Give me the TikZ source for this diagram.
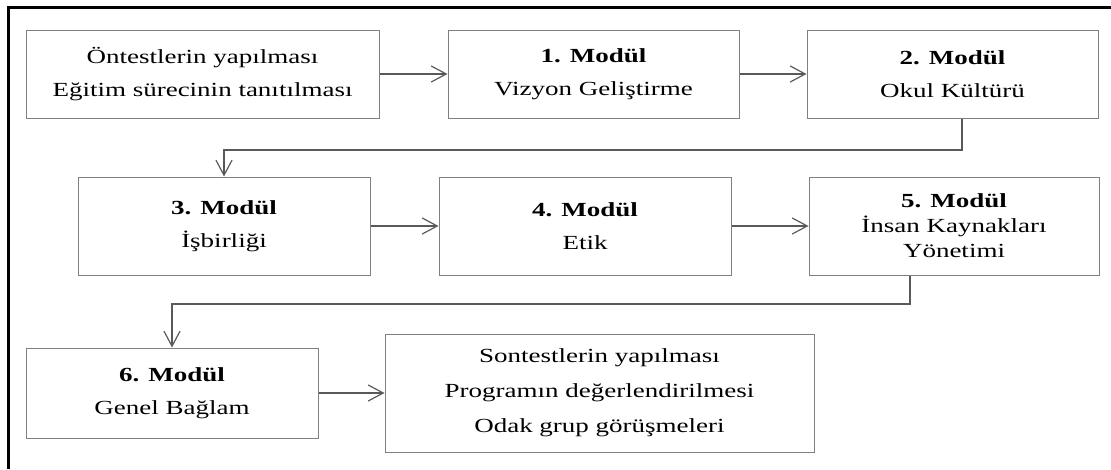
\documentclass[tikz,border=0pt]{standalone}
\usepackage{fontspec}
\setmainfont{Liberation Serif}[FakeStretch=1.35]
\usetikzlibrary{arrows.meta,positioning}

\begin{document}
\begin{tikzpicture}[x=1pt,y=-1pt,->,>={Straight Barb[length=15pt,width=16pt]},
        modul/.style={draw=black!50,line width=1pt,inner sep=0pt,align=center,
          minimum width=292pt,minimum height=98pt,font=\fontsize{20}{33}\selectfont},
        akis/.style={draw=black!65,line width=1.2pt}]

  \useasboundingbox (0,0) rectangle (1111,469);
  \draw[-,line width=3pt] (8,469) |- (1111,7);

  % first row
  \node[modul,minimum width=353pt,minimum height=88pt] (on) at (202.5,74)
    {Öntestlerin yapılması\\Eğitim sürecinin tanıtılması};
  \node[modul,minimum width=291pt,minimum height=88pt] (m1) [right=68pt of on]
    {\textbf{1. Modül}\\Vizyon Geliştirme};
  \node[modul,minimum width=291pt,minimum height=88pt] (m2) [right=67pt of m1]
    {\textbf{2. Modül}\\Okul Kültürü};

  % second row
  \node[modul] (m3) at (224,226) {\textbf{3. Modül}\\İşbirliği};
  \node[modul] (m4) [right=68pt of m3] {\textbf{4. Modül}\\Etik};
  \node[modul,minimum width=290pt,font=\fontsize{20}{25}\selectfont] (m5) [right=77pt of m4]
    {\textbf{5. Modül}\\İnsan Kaynakları\\Yönetimi};

  % third row
  \node[modul,minimum height=90pt] (m6) at (172,393) {\textbf{6. Modül}\\Genel Bağlam};
  \node[modul,minimum width=429pt,minimum height=118pt,font=\fontsize{20}{35}\selectfont]
    (son) [right=66pt of m6]
    {Sontestlerin yapılması\\Programın değerlendirilmesi\\Odak grup görüşmeleri};

  \coordinate (k1) at (962,150);
  \coordinate (k2) at (910,304);

  \path[akis] (on) edge (m1)
        (m1) edge (m2)
        (m3) edge (m4)
        (m4) edge (m5)
        (m6) edge (son);
  \draw[akis] (m2.south -| k1) -- (k1) -| (m3.north);
  \draw[akis] (m5.south -| k2) -- (k2) -| (m6.north);

\end{tikzpicture}
\end{document}
